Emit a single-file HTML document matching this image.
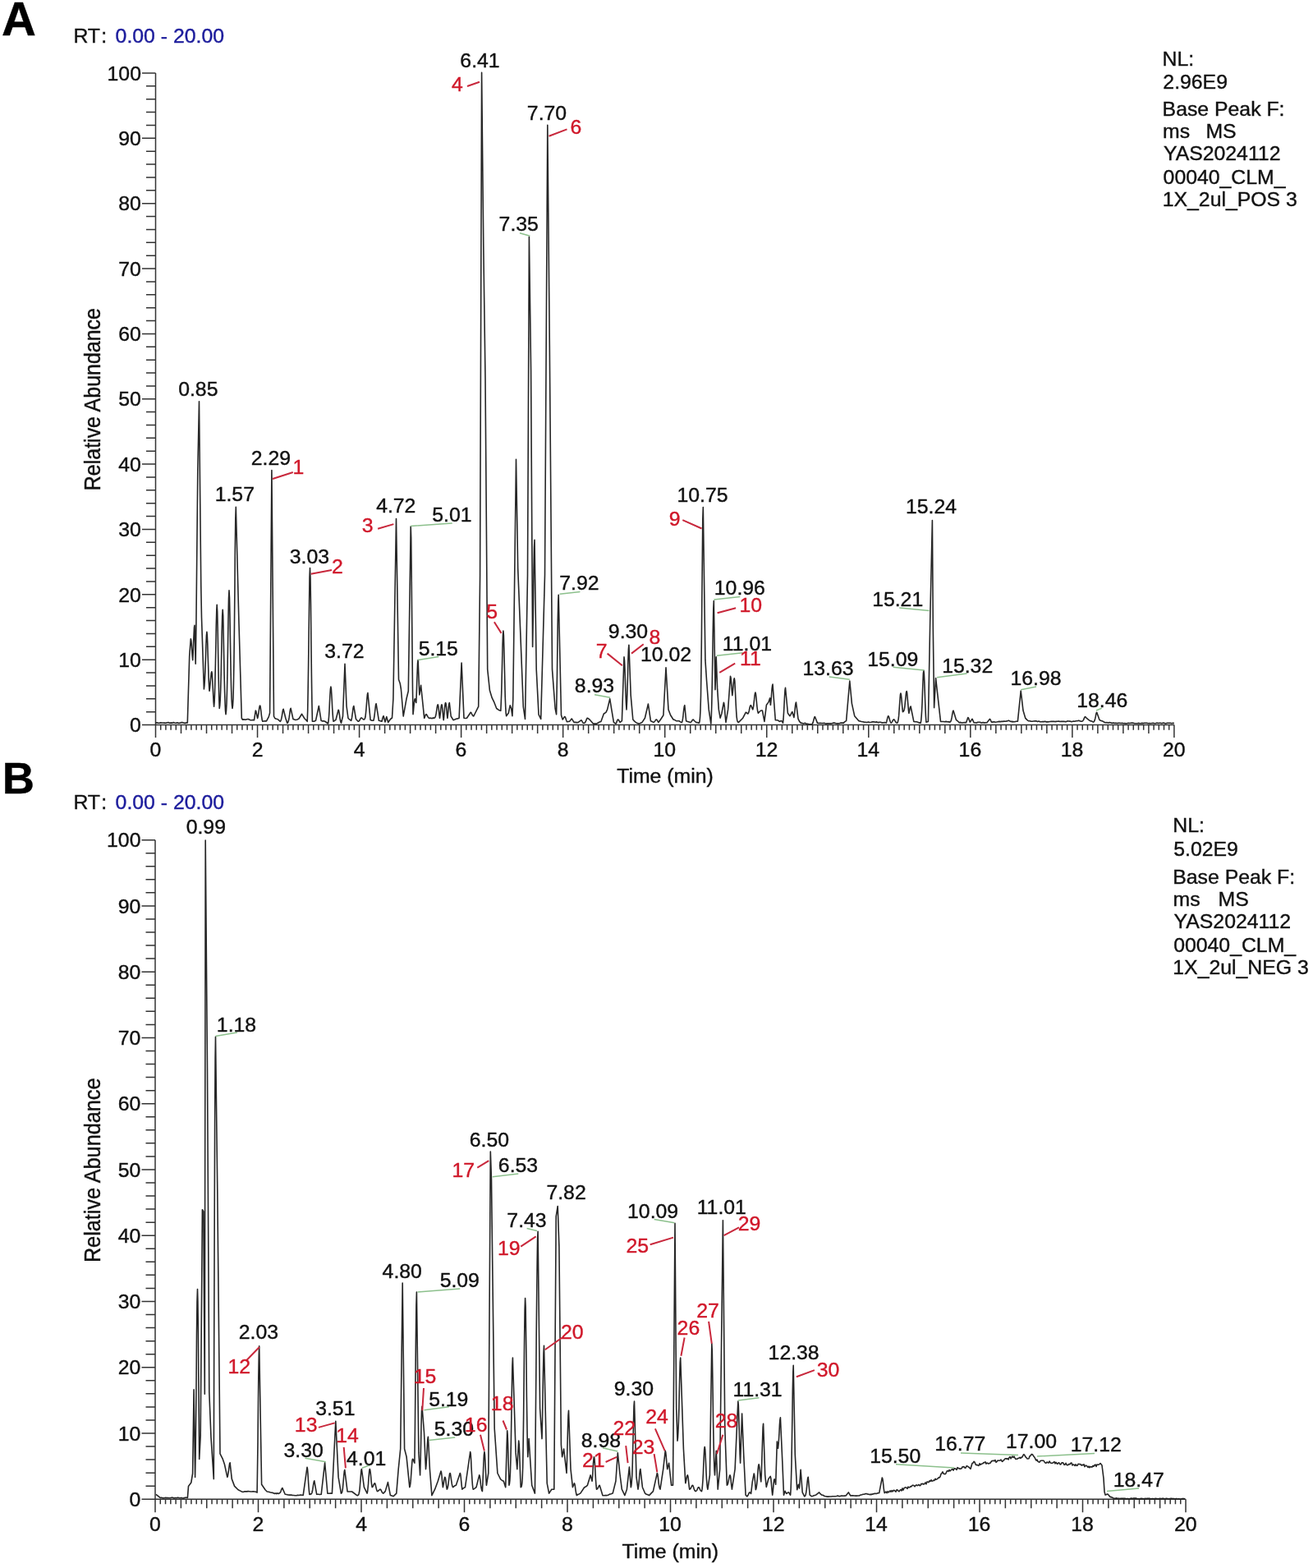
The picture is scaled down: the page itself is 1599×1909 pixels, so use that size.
<!DOCTYPE html>
<html><head><meta charset="utf-8"><title>Chromatograms</title>
<style>html,body{margin:0;padding:0;background:#fff}svg{display:block}text{font-family:"Liberation Sans",Arial,sans-serif;stroke-width:0.4px}</style>
</head><body>
<svg width="1599" height="1909" viewBox="0 0 1599 1909">
<rect width="1599" height="1909" fill="#fff"/>
<path d="M189.5,898.0 V89.00 M173.00,882.50 H189.5 M178.00,866.63 H189.5 M178.00,850.76 H189.5 M178.00,834.89 H189.5 M178.00,819.02 H189.5 M173.00,803.15 H189.5 M178.00,787.28 H189.5 M178.00,771.41 H189.5 M178.00,755.54 H189.5 M178.00,739.67 H189.5 M173.00,723.80 H189.5 M178.00,707.93 H189.5 M178.00,692.06 H189.5 M178.00,676.19 H189.5 M178.00,660.32 H189.5 M173.00,644.45 H189.5 M178.00,628.58 H189.5 M178.00,612.71 H189.5 M178.00,596.84 H189.5 M178.00,580.97 H189.5 M173.00,565.10 H189.5 M178.00,549.23 H189.5 M178.00,533.36 H189.5 M178.00,517.49 H189.5 M178.00,501.62 H189.5 M173.00,485.75 H189.5 M178.00,469.88 H189.5 M178.00,454.01 H189.5 M178.00,438.14 H189.5 M178.00,422.27 H189.5 M173.00,406.40 H189.5 M178.00,390.53 H189.5 M178.00,374.66 H189.5 M178.00,358.79 H189.5 M178.00,342.92 H189.5 M173.00,327.05 H189.5 M178.00,311.18 H189.5 M178.00,295.31 H189.5 M178.00,279.44 H189.5 M178.00,263.57 H189.5 M173.00,247.70 H189.5 M178.00,231.83 H189.5 M178.00,215.96 H189.5 M178.00,200.09 H189.5 M178.00,184.22 H189.5 M173.00,168.35 H189.5 M178.00,152.48 H189.5 M178.00,136.61 H189.5 M178.00,120.74 H189.5 M178.00,104.87 H189.5 M173.00,89.00 H189.5 M189.5,882.5 H1429.9 M189.50,882.5 V898.0 M195.70,882.5 V888.75 M201.90,882.5 V888.75 M208.11,882.5 V888.75 M214.31,882.5 V888.75 M220.51,882.5 V893.0 M226.71,882.5 V888.75 M232.91,882.5 V888.75 M239.12,882.5 V888.75 M245.32,882.5 V888.75 M251.52,882.5 V893.0 M257.72,882.5 V888.75 M263.92,882.5 V888.75 M270.13,882.5 V888.75 M276.33,882.5 V888.75 M282.53,882.5 V893.0 M288.73,882.5 V888.75 M294.93,882.5 V888.75 M301.14,882.5 V888.75 M307.34,882.5 V888.75 M313.54,882.5 V898.0 M319.74,882.5 V888.75 M325.94,882.5 V888.75 M332.15,882.5 V888.75 M338.35,882.5 V888.75 M344.55,882.5 V893.0 M350.75,882.5 V888.75 M356.95,882.5 V888.75 M363.16,882.5 V888.75 M369.36,882.5 V888.75 M375.56,882.5 V893.0 M381.76,882.5 V888.75 M387.96,882.5 V888.75 M394.17,882.5 V888.75 M400.37,882.5 V888.75 M406.57,882.5 V893.0 M412.77,882.5 V888.75 M418.97,882.5 V888.75 M425.18,882.5 V888.75 M431.38,882.5 V888.75 M437.58,882.5 V898.0 M443.78,882.5 V888.75 M449.98,882.5 V888.75 M456.19,882.5 V888.75 M462.39,882.5 V888.75 M468.59,882.5 V893.0 M474.79,882.5 V888.75 M480.99,882.5 V888.75 M487.20,882.5 V888.75 M493.40,882.5 V888.75 M499.60,882.5 V893.0 M505.80,882.5 V888.75 M512.00,882.5 V888.75 M518.21,882.5 V888.75 M524.41,882.5 V888.75 M530.61,882.5 V893.0 M536.81,882.5 V888.75 M543.01,882.5 V888.75 M549.22,882.5 V888.75 M555.42,882.5 V888.75 M561.62,882.5 V898.0 M567.82,882.5 V888.75 M574.02,882.5 V888.75 M580.23,882.5 V888.75 M586.43,882.5 V888.75 M592.63,882.5 V893.0 M598.83,882.5 V888.75 M605.03,882.5 V888.75 M611.24,882.5 V888.75 M617.44,882.5 V888.75 M623.64,882.5 V893.0 M629.84,882.5 V888.75 M636.04,882.5 V888.75 M642.25,882.5 V888.75 M648.45,882.5 V888.75 M654.65,882.5 V893.0 M660.85,882.5 V888.75 M667.05,882.5 V888.75 M673.26,882.5 V888.75 M679.46,882.5 V888.75 M685.66,882.5 V898.0 M691.86,882.5 V888.75 M698.06,882.5 V888.75 M704.27,882.5 V888.75 M710.47,882.5 V888.75 M716.67,882.5 V893.0 M722.87,882.5 V888.75 M729.07,882.5 V888.75 M735.28,882.5 V888.75 M741.48,882.5 V888.75 M747.68,882.5 V893.0 M753.88,882.5 V888.75 M760.08,882.5 V888.75 M766.29,882.5 V888.75 M772.49,882.5 V888.75 M778.69,882.5 V893.0 M784.89,882.5 V888.75 M791.09,882.5 V888.75 M797.30,882.5 V888.75 M803.50,882.5 V888.75 M809.70,882.5 V898.0 M815.90,882.5 V888.75 M822.10,882.5 V888.75 M828.31,882.5 V888.75 M834.51,882.5 V888.75 M840.71,882.5 V893.0 M846.91,882.5 V888.75 M853.11,882.5 V888.75 M859.32,882.5 V888.75 M865.52,882.5 V888.75 M871.72,882.5 V893.0 M877.92,882.5 V888.75 M884.12,882.5 V888.75 M890.33,882.5 V888.75 M896.53,882.5 V888.75 M902.73,882.5 V893.0 M908.93,882.5 V888.75 M915.13,882.5 V888.75 M921.34,882.5 V888.75 M927.54,882.5 V888.75 M933.74,882.5 V898.0 M939.94,882.5 V888.75 M946.14,882.5 V888.75 M952.35,882.5 V888.75 M958.55,882.5 V888.75 M964.75,882.5 V893.0 M970.95,882.5 V888.75 M977.15,882.5 V888.75 M983.36,882.5 V888.75 M989.56,882.5 V888.75 M995.76,882.5 V893.0 M1001.96,882.5 V888.75 M1008.16,882.5 V888.75 M1014.37,882.5 V888.75 M1020.57,882.5 V888.75 M1026.77,882.5 V893.0 M1032.97,882.5 V888.75 M1039.17,882.5 V888.75 M1045.38,882.5 V888.75 M1051.58,882.5 V888.75 M1057.78,882.5 V898.0 M1063.98,882.5 V888.75 M1070.18,882.5 V888.75 M1076.39,882.5 V888.75 M1082.59,882.5 V888.75 M1088.79,882.5 V893.0 M1094.99,882.5 V888.75 M1101.19,882.5 V888.75 M1107.40,882.5 V888.75 M1113.60,882.5 V888.75 M1119.80,882.5 V893.0 M1126.00,882.5 V888.75 M1132.20,882.5 V888.75 M1138.41,882.5 V888.75 M1144.61,882.5 V888.75 M1150.81,882.5 V893.0 M1157.01,882.5 V888.75 M1163.21,882.5 V888.75 M1169.42,882.5 V888.75 M1175.62,882.5 V888.75 M1181.82,882.5 V898.0 M1188.02,882.5 V888.75 M1194.22,882.5 V888.75 M1200.43,882.5 V888.75 M1206.63,882.5 V888.75 M1212.83,882.5 V893.0 M1219.03,882.5 V888.75 M1225.23,882.5 V888.75 M1231.44,882.5 V888.75 M1237.64,882.5 V888.75 M1243.84,882.5 V893.0 M1250.04,882.5 V888.75 M1256.24,882.5 V888.75 M1262.45,882.5 V888.75 M1268.65,882.5 V888.75 M1274.85,882.5 V893.0 M1281.05,882.5 V888.75 M1287.25,882.5 V888.75 M1293.46,882.5 V888.75 M1299.66,882.5 V888.75 M1305.86,882.5 V898.0 M1312.06,882.5 V888.75 M1318.26,882.5 V888.75 M1324.47,882.5 V888.75 M1330.67,882.5 V888.75 M1336.87,882.5 V893.0 M1343.07,882.5 V888.75 M1349.27,882.5 V888.75 M1355.48,882.5 V888.75 M1361.68,882.5 V888.75 M1367.88,882.5 V893.0 M1374.08,882.5 V888.75 M1380.28,882.5 V888.75 M1386.49,882.5 V888.75 M1392.69,882.5 V888.75 M1398.89,882.5 V893.0 M1405.09,882.5 V888.75 M1411.29,882.5 V888.75 M1417.50,882.5 V888.75 M1423.70,882.5 V888.75 M1429.90,882.5 V898.0" stroke="#333" stroke-width="1.5" fill="none"/>
<text x="158.10" y="891.20" font-size="24.8" fill="#111" stroke="#111">0</text>
<text x="144.34" y="811.85" font-size="24.8" fill="#111" stroke="#111">10</text>
<text x="144.34" y="732.50" font-size="24.8" fill="#111" stroke="#111">20</text>
<text x="144.34" y="653.15" font-size="24.8" fill="#111" stroke="#111">30</text>
<text x="144.34" y="573.80" font-size="24.8" fill="#111" stroke="#111">40</text>
<text x="144.34" y="494.45" font-size="24.8" fill="#111" stroke="#111">50</text>
<text x="144.34" y="415.10" font-size="24.8" fill="#111" stroke="#111">60</text>
<text x="144.34" y="335.75" font-size="24.8" fill="#111" stroke="#111">70</text>
<text x="144.34" y="256.40" font-size="24.8" fill="#111" stroke="#111">80</text>
<text x="144.34" y="177.05" font-size="24.8" fill="#111" stroke="#111">90</text>
<text x="130.58" y="97.70" font-size="24.8" fill="#111" stroke="#111">100</text>
<text x="182.56" y="921.00" font-size="24.8" fill="#111" stroke="#111">0</text>
<text x="306.66" y="921.00" font-size="24.8" fill="#111" stroke="#111">2</text>
<text x="430.82" y="921.00" font-size="24.8" fill="#111" stroke="#111">4</text>
<text x="554.61" y="921.00" font-size="24.8" fill="#111" stroke="#111">6</text>
<text x="678.72" y="921.00" font-size="24.8" fill="#111" stroke="#111">8</text>
<text x="795.44" y="921.00" font-size="24.8" fill="#111" stroke="#111">10</text>
<text x="919.67" y="921.00" font-size="24.8" fill="#111" stroke="#111">12</text>
<text x="1043.46" y="921.00" font-size="24.8" fill="#111" stroke="#111">14</text>
<text x="1167.62" y="921.00" font-size="24.8" fill="#111" stroke="#111">16</text>
<text x="1291.66" y="921.00" font-size="24.8" fill="#111" stroke="#111">18</text>
<text x="1415.95" y="921.00" font-size="24.8" fill="#111" stroke="#111">20</text>
<path d="M189.5,880.0 L191.1,879.7 L192.6,880.3 L194.2,880.2 L195.7,879.8 L197.3,880.0 L198.8,880.0 L200.4,880.1 L201.9,880.2 L203.5,879.7 L205.0,879.6 L206.6,880.3 L208.1,879.9 L209.7,880.2 L211.2,879.6 L212.8,880.0 L214.3,880.2 L215.9,879.8 L217.4,880.4 L219.0,880.3 L220.5,879.6 L222.1,879.6 L223.6,880.0 L225.2,880.4 L226.7,879.9 L228.3,880.0 L230.7,798.9 L232.3,777.7 L232.8,779.6 L233.3,784.7 L233.7,791.5 L234.2,798.2 L234.7,803.6 L235.2,794.3 L235.6,783.2 L236.1,772.3 L236.5,764.2 L237.0,761.2 L238.2,808.3 L238.9,761.0 L240.8,572.6 L242.5,488.9 L244.8,714.0 L245.5,751.7 L248.4,839.0 L248.9,834.9 L249.4,827.4 L249.9,816.0 L250.4,801.2 L250.9,785.8 L251.4,773.9 L251.9,769.4 L252.3,773.2 L252.8,783.7 L253.2,797.9 L253.7,812.7 L254.1,825.6 L254.6,835.1 L255.0,841.3 L255.5,838.2 L255.9,833.8 L256.4,828.4 L256.9,823.1 L257.3,819.2 L257.8,817.7 L258.3,820.4 L258.7,827.5 L259.2,837.0 L259.7,846.6 L260.1,854.6 L260.6,860.2 L261.1,854.7 L261.5,844.9 L261.9,829.6 L262.4,808.7 L262.9,784.2 L263.3,760.4 L263.8,742.9 L264.2,736.4 L264.7,745.1 L265.2,768.0 L265.7,797.6 L266.2,826.1 L266.7,848.1 L267.2,862.5 L267.7,859.2 L268.2,852.3 L268.7,839.7 L269.2,820.5 L269.7,795.7 L270.2,769.8 L270.7,749.9 L271.2,742.3 L271.7,749.6 L272.1,769.2 L272.6,795.1 L273.1,820.9 L273.6,841.9 L274.1,856.4 L274.5,865.1 L275.0,869.6 L275.5,865.4 L276.0,856.7 L276.5,841.0 L277.0,816.9 L277.5,785.7 L278.0,753.3 L278.5,728.2 L279.0,718.7 L279.5,727.7 L280.0,751.6 L280.5,782.6 L281.0,812.2 L281.5,835.3 L282.0,850.2 L282.5,858.5 L283.0,862.5 L283.5,858.8 L284.0,850.5 L284.4,834.3 L284.9,807.0 L285.4,767.3 L285.9,718.3 L286.3,668.8 L286.8,631.4 L287.3,617.4 L291.0,760.0 L294.3,874.3 L295.5,876.2 L296.0,876.0 L296.5,876.1 L297.0,875.8 L297.5,876.0 L298.0,876.2 L298.5,876.2 L299.0,876.1 L299.5,876.1 L300.0,875.9 L300.5,875.8 L301.0,875.7 L301.5,875.5 L302.0,875.5 L302.5,875.6 L303.0,875.8 L303.5,876.1 L304.0,876.3 L304.5,876.5 L305.0,876.7 L305.5,876.7 L306.0,876.8 L306.5,876.7 L307.0,876.8 L307.5,876.6 L308.0,876.6 L308.5,876.6 L309.0,876.8 L309.5,876.8 L311.3,865.1 L311.8,865.8 L312.2,867.6 L312.7,870.0 L313.1,872.4 L313.6,874.5 L314.1,872.7 L314.6,870.1 L315.1,866.6 L315.6,863.0 L316.1,860.2 L316.6,859.1 L317.1,860.2 L317.5,863.1 L318.0,867.0 L318.4,871.0 L318.9,874.4 L319.3,876.8 L319.8,878.3 L321.4,878.0 L322.9,877.7 L324.5,877.9 L327.3,872.6 L328.6,868.0 L330.9,572.6 L333.5,872.0 L334.8,874.5 L336.4,875.3 L338.0,875.5 L339.6,876.9 L341.3,878.3 L341.8,877.8 L342.2,876.7 L342.7,875.0 L343.2,872.6 L343.7,869.5 L344.2,866.5 L344.6,864.2 L345.1,863.3 L348.0,875.0 L349.8,880.2 L350.3,879.9 L350.8,879.3 L351.2,878.1 L351.7,876.1 L352.2,873.2 L352.7,869.7 L353.1,866.1 L353.6,863.3 L354.1,862.3 L357.0,875.5 L360.0,876.5 L362.0,875.9 L364.0,875.0 L367.6,869.3 L371.0,875.0 L372.6,876.4 L374.2,878.3 L374.7,864.8 L375.1,842.4 L375.6,810.3 L376.1,771.2 L376.6,732.0 L377.0,702.6 L377.5,691.6 L378.0,703.8 L378.5,736.4 L378.9,779.4 L379.4,821.6 L379.9,855.4 L380.4,878.3 L382.4,878.2 L384.5,877.3 L388.3,859.5 L391.1,877.3 L392.6,877.9 L394.2,877.7 L395.7,878.3 L397.6,879.5 L399.5,881.0 L400.0,878.1 L400.5,873.0 L401.0,865.4 L401.4,855.9 L401.9,846.2 L402.4,838.9 L402.9,836.1 L403.4,838.5 L403.8,844.8 L404.3,853.5 L404.7,862.2 L405.2,869.6 L405.6,875.0 L406.1,878.3 L409.0,876.3 L412.1,864.2 L412.6,865.2 L413.1,867.8 L413.6,871.3 L414.0,874.6 L414.5,877.3 L415.0,879.2 L415.5,880.2 L417.5,872.0 L420.0,808.3 L422.0,859.5 L424.0,874.5 L425.9,876.1 L427.7,877.3 L428.1,875.8 L428.6,873.4 L429.0,870.2 L429.5,866.6 L429.9,863.0 L430.4,860.5 L430.8,859.5 L433.5,875.5 L436.1,878.3 L436.6,878.2 L437.1,877.9 L437.6,877.4 L438.1,876.7 L438.5,875.8 L439.0,874.9 L439.5,874.3 L440.0,874.0 L440.5,874.1 L441.0,874.5 L441.5,875.0 L442.0,875.4 L442.5,875.8 L443.0,876.0 L443.5,876.0 L444.0,875.4 L444.5,874.5 L445.0,872.5 L445.4,869.0 L445.9,863.9 L446.4,857.4 L446.9,850.7 L447.4,845.5 L447.9,843.6 L451.1,876.4 L453.0,877.2 L454.8,877.3 L455.3,875.8 L455.7,873.3 L456.2,869.8 L456.7,865.5 L457.2,861.2 L457.6,857.9 L458.1,856.7 L461.4,877.3 L463.2,877.7 L465.0,878.3 L465.4,876.7 L465.8,875.0 L466.3,873.3 L466.7,872.1 L467.1,871.7 L469.0,879.0 L470.8,872.6 L472.7,879.5 L475.5,875.5 L477.5,874.0 L478.9,850.8 L482.5,631.5 L485.5,827.2 L487.2,831.9 L488.4,839.0 L491.2,872.0 L495.0,850.8 L497.3,841.3 L500.2,641.0 L500.7,655.3 L501.1,693.7 L501.6,745.0 L502.1,796.7 L502.5,839.5 L503.0,869.6 L503.5,865.5 L503.9,860.6 L504.4,855.7 L504.8,852.1 L505.3,850.8 L506.8,855.5 L507.3,844.1 L507.7,830.6 L508.2,817.2 L508.6,807.3 L509.1,803.6 L510.8,846.0 L512.6,834.3 L514.3,850.8 L516.7,874.3 L517.2,873.3 L517.6,872.0 L518.1,870.8 L518.5,869.9 L519.0,869.6 L519.5,869.9 L519.9,870.6 L520.4,871.5 L520.9,872.4 L521.4,873.2 L521.8,873.7 L522.3,874.0 L522.8,874.2 L523.2,874.5 L523.7,874.3 L524.2,874.4 L524.7,874.1 L525.2,874.4 L525.7,874.6 L526.2,874.6 L526.7,874.3 L527.2,874.4 L527.7,873.9 L528.2,874.1 L528.7,874.4 L529.2,874.0 L529.7,873.6 L530.2,872.6 L530.7,870.9 L531.2,868.4 L531.7,865.0 L532.2,861.5 L532.7,858.8 L533.2,857.8 L533.7,859.0 L534.1,862.1 L534.6,866.4 L535.0,870.7 L535.5,874.3 L536.0,870.9 L536.5,866.6 L536.9,862.3 L537.4,859.0 L537.9,857.8 L538.4,859.1 L538.8,862.8 L539.3,867.6 L539.7,872.6 L540.2,876.7 L540.7,872.3 L541.2,866.8 L541.6,861.3 L542.1,857.1 L542.6,855.5 L543.1,856.8 L543.5,860.4 L544.0,865.3 L544.4,870.2 L544.9,874.3 L545.4,870.4 L545.9,865.5 L546.3,860.6 L546.8,856.9 L547.3,855.5 L549.2,872.0 L552.0,876.7 L553.8,876.0 L555.5,875.2 L557.3,874.9 L559.1,874.3 L562.1,807.1 L565.0,874.3 L566.8,874.5 L568.5,874.3 L573.2,867.3 L573.7,867.5 L574.1,868.2 L574.5,869.1 L575.0,870.0 L575.5,870.8 L575.9,871.4 L576.3,871.8 L576.8,872.0 L582.7,860.2 L584.6,700.0 L586.6,88.4 L588.8,300.0 L591.0,460.0 L593.7,814.9 L596.4,840.5 L599.2,849.7 L601.9,855.2 L604.7,862.5 L607.4,864.4 L609.8,865.3 L610.2,856.9 L610.7,844.0 L611.1,826.7 L611.6,806.7 L612.0,787.4 L612.5,773.3 L612.9,768.1 L613.4,773.8 L613.8,789.1 L614.3,809.6 L614.8,830.3 L615.2,847.6 L615.7,860.0 L616.1,867.6 L616.6,871.7 L619.3,868.0 L621.2,858.9 L622.6,862.5 L623.9,871.7 L624.8,851.5 L628.5,559.2 L630.7,692.1 L631.8,719.6 L637.3,860.7 L639.5,875.4 L642.5,700.0 L644.4,288.4 L646.6,450.0 L648.6,787.4 L649.1,760.3 L649.6,726.7 L650.0,692.7 L650.5,666.9 L651.0,657.3 L653.2,814.9 L656.0,869.8 L658.7,875.4 L663.5,700.0 L666.8,152.2 L669.3,420.0 L672.5,814.9 L676.1,862.5 L677.6,869.8 L678.0,847.9 L678.5,819.1 L678.9,786.3 L679.3,755.1 L679.8,732.5 L680.2,724.2 L683.5,870.8 L685.2,876.0 L685.6,875.5 L686.1,874.8 L686.5,874.0 L686.9,873.2 L687.4,872.7 L687.8,872.5 L688.2,872.8 L688.7,873.8 L689.1,875.1 L689.5,876.5 L690.0,877.7 L690.4,878.6 L690.9,878.7 L691.4,878.5 L691.9,878.5 L692.4,878.5 L692.9,878.4 L693.4,878.2 L693.9,877.9 L694.4,877.3 L694.9,876.6 L695.4,875.9 L695.9,875.3 L696.4,875.1 L699.0,879.4 L700.7,879.4 L702.5,879.6 L704.2,879.4 L706.0,878.1 L707.7,876.8 L708.1,877.0 L708.6,877.5 L709.0,878.3 L709.4,879.1 L709.9,879.8 L710.3,880.3 L710.8,880.2 L711.2,880.2 L711.7,880.1 L712.2,879.9 L712.6,879.5 L713.1,878.8 L713.5,877.8 L714.0,876.6 L714.5,875.4 L714.9,874.5 L715.4,874.2 L718.0,876.0 L722.4,881.1 L724.5,881.1 L726.7,881.1 L728.4,879.9 L730.2,879.1 L731.9,878.6 L735.3,869.0 L737.9,867.3 L739.6,863.9 L742.7,850.9 L744.8,863.9 L747.4,879.4 L750.0,881.1 L750.4,880.3 L750.9,879.3 L751.3,878.2 L751.7,877.1 L752.2,876.3 L752.6,876.0 L753.0,876.2 L753.5,876.7 L753.9,877.4 L754.3,878.2 L754.8,878.9 L755.2,879.4 L757.4,877.7 L760.0,799.9 L760.5,804.3 L761.0,815.9 L761.5,831.0 L762.0,845.4 L762.5,856.6 L763.0,863.9 L763.5,854.2 L764.0,840.0 L764.5,822.2 L764.9,804.1 L765.4,790.4 L765.9,785.2 L768.2,846.6 L770.8,876.0 L772.5,877.9 L774.2,879.4 L776.4,880.6 L778.5,881.1 L780.2,880.3 L782.0,879.4 L785.4,874.2 L789.4,857.0 L792.4,877.7 L794.1,878.5 L795.8,879.4 L796.3,879.2 L796.8,878.8 L797.3,878.3 L797.8,877.6 L798.3,876.8 L798.8,876.2 L799.3,876.0 L799.7,876.2 L800.2,876.7 L800.6,877.4 L801.0,878.2 L801.5,878.9 L801.9,879.4 L804.5,876.0 L807.9,870.8 L811.0,812.9 L814.0,863.9 L816.6,870.8 L820.0,876.0 L821.8,876.6 L823.5,877.7 L825.2,877.7 L826.9,877.7 L828.6,878.9 L830.4,879.4 L830.9,878.0 L831.4,875.7 L831.9,872.2 L832.3,867.8 L832.8,863.4 L833.3,860.0 L833.8,858.7 L835.6,877.7 L837.3,878.5 L839.1,878.9 L840.8,879.4 L841.3,879.2 L841.8,878.8 L842.3,878.2 L842.7,877.5 L843.2,876.8 L843.7,876.2 L844.2,876.0 L846.0,878.0 L847.7,879.4 L849.4,879.6 L851.1,880.3 L851.6,879.7 L852.0,878.3 L852.5,873.7 L853.0,864.5 L853.5,846.8 L853.9,817.3 L854.4,774.9 L854.9,723.1 L855.4,671.1 L855.8,632.1 L856.3,617.5 L858.9,803.4 L860.6,829.3 L863.2,863.9 L865.8,881.1 L866.3,872.2 L866.8,856.2 L867.3,831.6 L867.8,799.9 L868.3,766.8 L868.8,741.3 L869.3,731.6 L871.0,839.7 L872.2,799.9 L873.6,837.9 L875.3,863.9 L877.1,874.2 L878.8,869.0 L881.4,855.2 L881.8,856.6 L882.3,860.3 L882.7,865.5 L883.1,871.0 L883.6,875.8 L884.0,879.4 L886.6,863.9 L889.5,823.2 L890.0,824.9 L890.4,829.3 L890.9,835.4 L891.3,841.5 L891.8,846.6 L892.3,842.5 L892.8,837.2 L893.3,831.7 L893.8,827.4 L894.3,825.8 L894.8,828.8 L895.2,836.7 L895.7,847.3 L896.2,857.9 L896.7,866.6 L897.1,872.6 L897.6,876.2 L898.1,878.1 L898.6,879.0 L899.0,879.2 L899.5,879.4 L904.7,874.2 L908.2,867.3 L908.6,867.4 L909.1,867.7 L909.5,868.0 L909.9,868.4 L910.4,868.7 L910.8,869.0 L911.3,868.3 L911.8,867.2 L912.3,865.4 L912.7,863.2 L913.2,861.0 L913.7,859.3 L914.2,858.7 L914.6,859.0 L915.1,859.8 L915.5,860.9 L915.9,862.1 L916.4,863.1 L916.8,863.9 L917.2,862.1 L917.7,859.3 L918.1,855.6 L918.6,851.4 L919.0,847.2 L919.5,844.2 L919.9,843.1 L920.4,844.7 L920.9,849.0 L921.4,854.6 L921.9,860.0 L922.4,864.1 L922.9,866.8 L923.4,868.3 L925.0,866.5 L926.7,865.0 L928.4,865.0 L930.9,878.4 L933.4,858.3 L935.9,854.9 L937.6,849.9 L938.4,858.3 L938.8,854.5 L939.3,849.5 L939.7,843.8 L940.1,838.4 L940.6,834.5 L941.0,833.1 L944.3,876.7 L946.8,876.7 L949.3,878.4 L949.7,878.3 L950.2,878.1 L950.6,877.9 L951.0,877.8 L951.5,877.6 L951.9,877.6 L953.5,880.1 L954.0,875.2 L954.5,867.7 L955.0,858.1 L955.5,848.0 L956.0,840.2 L956.5,837.3 L959.4,868.3 L961.9,871.7 L962.4,871.1 L962.9,870.3 L963.4,869.1 L963.9,868.0 L964.4,867.0 L964.9,866.7 L966.9,873.4 L967.3,870.6 L967.8,867.0 L968.2,862.8 L968.6,858.9 L969.1,856.0 L969.5,855.0 L972.0,875.1 L973.6,878.4 L975.3,880.1 L977.0,880.4 L978.6,880.9 L980.3,880.3 L982.0,881.2 L983.7,881.4 L985.4,881.7 L987.0,881.8 L988.7,881.8 L989.2,881.4 L989.6,880.7 L990.1,879.6 L990.5,878.1 L991.0,876.2 L991.5,874.4 L991.9,873.0 L992.4,872.5 L995.4,880.1 L997.1,880.5 L998.8,880.3 L1000.5,880.5 L1002.1,880.5 L1003.8,880.3 L1005.5,881.1 L1007.2,880.9 L1007.7,881.0 L1008.2,880.7 L1008.7,880.9 L1009.2,880.9 L1009.7,880.8 L1010.2,880.8 L1010.7,880.9 L1011.2,881.0 L1011.6,880.9 L1012.1,880.9 L1012.6,880.8 L1013.1,880.7 L1013.6,880.6 L1014.1,880.4 L1014.6,880.3 L1015.1,880.1 L1015.6,880.1 L1016.1,880.1 L1016.6,880.3 L1017.1,880.4 L1017.6,880.6 L1018.1,880.7 L1018.6,880.8 L1019.1,880.9 L1019.6,880.9 L1020.1,881.0 L1020.6,880.9 L1022.3,880.7 L1024.0,880.1 L1025.6,880.1 L1027.3,880.1 L1028.9,878.6 L1030.6,877.6 L1034.8,829.0 L1037.4,856.6 L1040.7,871.7 L1045.7,877.6 L1047.4,878.0 L1049.1,878.5 L1050.7,878.8 L1052.4,879.1 L1054.1,879.2 L1055.8,879.5 L1057.5,879.0 L1059.2,879.5 L1060.8,879.3 L1062.5,878.9 L1064.2,878.8 L1065.9,879.2 L1067.6,878.9 L1069.2,879.6 L1070.9,879.3 L1072.6,879.3 L1074.3,879.9 L1076.0,879.8 L1077.6,879.6 L1079.3,880.1 L1079.8,878.4 L1080.3,876.3 L1080.8,874.1 L1081.3,872.4 L1081.8,871.7 L1082.3,872.2 L1082.7,873.5 L1083.2,875.3 L1083.7,877.0 L1084.2,878.5 L1084.6,879.5 L1085.1,880.1 L1085.6,879.8 L1086.1,879.3 L1086.6,878.6 L1087.0,877.8 L1087.5,876.8 L1088.0,876.2 L1088.5,875.9 L1089.0,876.1 L1089.4,876.7 L1089.9,877.6 L1090.4,878.4 L1090.8,879.1 L1091.3,879.6 L1091.8,879.9 L1092.2,880.0 L1092.7,880.1 L1093.2,879.5 L1093.6,878.1 L1094.1,875.6 L1094.6,871.4 L1095.0,865.5 L1095.5,858.4 L1096.0,851.3 L1096.4,846.0 L1096.9,844.0 L1097.4,845.8 L1097.9,850.4 L1098.4,856.4 L1098.9,862.2 L1099.4,866.7 L1099.9,866.3 L1100.3,866.1 L1100.8,865.2 L1101.3,863.5 L1101.8,860.6 L1102.2,856.5 L1102.7,851.6 L1103.2,846.6 L1103.6,842.9 L1104.1,841.5 L1104.6,843.2 L1105.0,847.7 L1105.5,853.7 L1106.0,859.8 L1106.4,864.8 L1106.9,868.3 L1107.3,866.4 L1107.8,864.2 L1108.2,862.1 L1108.7,860.6 L1109.1,860.0 L1112.8,878.4 L1114.5,878.8 L1116.2,878.8 L1117.8,879.2 L1119.5,879.9 L1121.2,880.1 L1121.7,877.6 L1122.1,872.9 L1122.6,865.3 L1123.1,854.7 L1123.5,841.9 L1124.0,829.3 L1124.4,819.9 L1124.9,816.4 L1125.4,820.7 L1125.9,832.1 L1126.4,846.9 L1126.9,861.1 L1127.4,872.1 L1127.9,879.2 L1130.4,878.4 L1132.9,746.0 L1135.4,633.6 L1136.3,764.4 L1137.6,861.6 L1139.6,825.6 L1142.1,848.2 L1145.5,878.4 L1147.1,878.5 L1148.8,878.5 L1150.4,878.7 L1152.0,878.4 L1153.6,878.8 L1155.3,878.9 L1156.9,879.1 L1157.4,878.8 L1157.8,878.2 L1158.3,877.2 L1158.7,875.5 L1159.2,873.2 L1159.6,870.5 L1160.1,867.8 L1160.5,865.8 L1161.0,865.1 L1164.4,876.3 L1166.2,877.8 L1168.1,879.7 L1169.8,879.4 L1171.5,880.0 L1173.2,879.7 L1174.9,879.5 L1176.6,879.7 L1178.8,873.5 L1179.3,873.9 L1179.8,875.1 L1180.3,876.6 L1180.8,878.0 L1181.3,879.1 L1181.8,878.6 L1182.2,877.9 L1182.7,877.1 L1183.2,876.3 L1183.6,875.6 L1184.1,875.4 L1186.0,879.7 L1187.6,879.8 L1189.2,880.0 L1190.8,879.3 L1192.4,879.3 L1194.0,879.4 L1195.5,879.9 L1197.1,879.4 L1198.7,879.9 L1200.3,879.8 L1201.9,879.7 L1205.3,875.4 L1205.7,875.7 L1206.2,876.3 L1206.6,877.3 L1207.1,878.3 L1207.5,879.1 L1209.0,879.1 L1210.6,878.7 L1212.1,879.2 L1213.6,879.0 L1215.2,878.7 L1216.7,878.4 L1218.3,878.6 L1219.8,878.4 L1221.3,878.4 L1222.9,878.1 L1224.4,878.2 L1226.3,877.9 L1228.2,877.3 L1228.7,877.4 L1229.1,877.6 L1229.6,877.8 L1230.1,878.1 L1230.5,878.3 L1231.0,878.4 L1231.5,878.5 L1231.9,878.6 L1232.4,878.2 L1232.9,878.4 L1233.3,879.0 L1233.8,878.6 L1235.7,878.8 L1237.5,878.2 L1239.4,878.2 L1243.2,841.0 L1246.0,865.1 L1248.8,874.4 L1250.7,876.4 L1252.6,877.8 L1254.2,877.7 L1255.7,878.3 L1257.3,878.2 L1258.8,878.0 L1260.4,877.9 L1261.9,877.8 L1263.5,878.6 L1265.1,878.0 L1266.6,878.7 L1268.2,878.8 L1269.7,878.6 L1271.3,878.6 L1272.8,878.3 L1274.3,878.9 L1275.8,878.9 L1277.3,878.7 L1278.8,878.5 L1280.3,878.4 L1281.8,878.4 L1283.3,878.2 L1284.8,878.6 L1286.3,878.4 L1287.8,878.2 L1289.3,878.1 L1290.9,878.5 L1292.4,878.2 L1293.9,878.4 L1295.4,878.2 L1296.9,878.6 L1298.4,878.6 L1299.9,877.9 L1301.4,878.0 L1302.9,878.1 L1304.4,878.6 L1305.9,878.5 L1307.4,878.1 L1308.9,878.2 L1310.4,877.7 L1312.0,877.7 L1313.5,877.3 L1314.0,877.4 L1314.5,877.5 L1314.9,877.7 L1315.4,877.9 L1315.9,878.0 L1316.3,878.1 L1316.8,878.2 L1317.3,878.2 L1317.8,878.1 L1318.3,877.9 L1318.7,877.6 L1319.2,876.9 L1319.7,876.0 L1320.2,874.9 L1320.6,873.8 L1321.1,872.9 L1321.6,872.6 L1323.7,874.7 L1325.7,876.3 L1327.6,877.6 L1329.5,878.0 L1331.4,879.1 L1331.9,878.9 L1332.4,878.5 L1332.8,877.7 L1333.3,876.4 L1333.8,874.5 L1334.3,872.2 L1334.7,869.8 L1335.2,868.0 L1335.7,867.3 L1338.9,876.3 L1340.4,877.3 L1341.9,877.8 L1343.4,878.3 L1344.9,879.4 L1346.4,879.7 L1348.0,879.6 L1349.5,880.0 L1351.1,879.6 L1352.6,879.7 L1354.2,880.4 L1355.8,879.9 L1357.3,880.4 L1358.9,880.3 L1360.4,880.6 L1362.0,880.3 L1363.5,880.3 L1365.1,880.5 L1366.6,880.3 L1368.1,880.8 L1369.6,880.6 L1371.1,880.9 L1372.6,880.8 L1374.1,880.2 L1375.6,880.5 L1377.2,880.2 L1378.7,880.1 L1380.2,880.2 L1381.7,880.8 L1383.2,880.7 L1384.7,880.8 L1386.2,880.4 L1387.7,880.6 L1389.2,880.7 L1390.7,880.4 L1392.2,880.6 L1393.7,880.3 L1395.2,880.2 L1396.7,880.3 L1398.3,880.8 L1399.8,880.6 L1401.3,880.8 L1402.8,880.5 L1404.3,880.3 L1405.8,880.7 L1407.3,880.8 L1408.8,880.1 L1410.3,880.6 L1411.8,880.2 L1413.3,880.2 L1414.8,880.8 L1416.3,880.1 L1417.8,880.3 L1419.4,880.9 L1420.9,880.4 L1422.4,880.2 L1423.9,880.2 L1425.4,880.3 L1426.9,880.7 L1428.4,880.2 L1429.9,880.5" stroke="#262626" stroke-width="1.6" fill="none" stroke-linejoin="round"/>
<path d="M632.9,283.8 L645.4,287.3 M500.2,640.5 L550.8,637 M509.1,803.6 L534.3,799.6 M681.6,723.3 L706.4,720.5 M724.1,845.7 L743.1,849.2 M869.3,729.9 L901.3,726.4 M872.7,798.2 L904.7,794.7 M1009.7,823.9 L1034.8,827.3 M1087.6,812.2 L1125.4,816 M1095.2,740.1 L1131.6,743.5 M1141,824.7 L1177.5,820 M1243.2,839.7 L1262,836 M1335,865 L1341.7,862.3" stroke="#8cc08c" stroke-width="1.5" fill="none"/>
<path d="M332,583 L356.8,575 M378.7,698.7 L404,694 M460.1,643.8 L479.4,638.1 M569,105 L584,99.7 M601.9,757.2 L610.5,770.9 M668.5,165.8 L690.5,157.4 M739.6,795.6 L757.8,810.3 M769,795.6 L783.7,784.3 M831.3,633.1 L854.6,643.5 M873.6,746.3 L896.1,740.3 M876.2,818.9 L895.2,807.7" stroke="#c8283c" stroke-width="2" fill="none"/>
<text x="560.37" y="81.90" font-size="24.8" fill="#111" stroke="#111">6.41</text>
<text x="641.85" y="146.00" font-size="24.8" fill="#111" stroke="#111">7.70</text>
<text x="607.61" y="281.00" font-size="24.8" fill="#111" stroke="#111">7.35</text>
<text x="217.18" y="482.00" font-size="24.8" fill="#111" stroke="#111">0.85</text>
<text x="305.77" y="565.50" font-size="24.8" fill="#111" stroke="#111">2.29</text>
<text x="261.67" y="610.30" font-size="24.8" fill="#111" stroke="#111">1.57</text>
<text x="352.73" y="685.70" font-size="24.8" fill="#111" stroke="#111">3.03</text>
<text x="395.21" y="801.00" font-size="24.8" fill="#111" stroke="#111">3.72</text>
<text x="458.15" y="624.40" font-size="24.8" fill="#111" stroke="#111">4.72</text>
<text x="526.34" y="635.00" font-size="24.8" fill="#111" stroke="#111">5.01</text>
<text x="509.63" y="797.70" font-size="24.8" fill="#111" stroke="#111">5.15</text>
<text x="681.33" y="717.80" font-size="24.8" fill="#111" stroke="#111">7.92</text>
<text x="699.87" y="843.10" font-size="24.8" fill="#111" stroke="#111">8.93</text>
<text x="740.86" y="777.40" font-size="24.8" fill="#111" stroke="#111">9.30</text>
<text x="780.09" y="805.00" font-size="24.8" fill="#111" stroke="#111">10.02</text>
<text x="824.44" y="610.75" font-size="24.8" fill="#111" stroke="#111">10.75</text>
<text x="869.82" y="723.80" font-size="24.8" fill="#111" stroke="#111">10.96</text>
<text x="879.81" y="792.00" font-size="24.8" fill="#111" stroke="#111">11.01</text>
<text x="977.42" y="822.20" font-size="24.8" fill="#111" stroke="#111">13.63</text>
<text x="1056.28" y="810.50" font-size="24.8" fill="#111" stroke="#111">15.09</text>
<text x="1062.13" y="738.40" font-size="24.8" fill="#111" stroke="#111">15.21</text>
<text x="1103.04" y="625.30" font-size="24.8" fill="#111" stroke="#111">15.24</text>
<text x="1147.14" y="819.10" font-size="24.8" fill="#111" stroke="#111">15.32</text>
<text x="1230.52" y="834.10" font-size="24.8" fill="#111" stroke="#111">16.98</text>
<text x="1311.17" y="861.30" font-size="24.8" fill="#111" stroke="#111">18.46</text>
<text x="356.55" y="577.30" font-size="24.8" fill="#d0182a" stroke="#d0182a">1</text>
<text x="404.12" y="697.50" font-size="24.8" fill="#d0182a" stroke="#d0182a">2</text>
<text x="440.82" y="648.00" font-size="24.8" fill="#d0182a" stroke="#d0182a">3</text>
<text x="549.94" y="111.00" font-size="24.8" fill="#d0182a" stroke="#d0182a">4</text>
<text x="592.32" y="752.60" font-size="24.8" fill="#d0182a" stroke="#d0182a">5</text>
<text x="694.49" y="162.70" font-size="24.8" fill="#d0182a" stroke="#d0182a">6</text>
<text x="725.82" y="800.80" font-size="24.8" fill="#d0182a" stroke="#d0182a">7</text>
<text x="790.61" y="783.50" font-size="24.8" fill="#d0182a" stroke="#d0182a">8</text>
<text x="814.87" y="640.00" font-size="24.8" fill="#d0182a" stroke="#d0182a">9</text>
<text x="900.39" y="744.60" font-size="24.8" fill="#d0182a" stroke="#d0182a">10</text>
<text x="901.04" y="810.30" font-size="24.8" fill="#d0182a" stroke="#d0182a">11</text>
<path d="M189,1841.25 V1022.65 M172.50,1825.25 H189 M177.50,1809.20 H189 M177.50,1793.15 H189 M177.50,1777.09 H189 M177.50,1761.04 H189 M172.50,1744.99 H189 M177.50,1728.94 H189 M177.50,1712.89 H189 M177.50,1696.83 H189 M177.50,1680.78 H189 M172.50,1664.73 H189 M177.50,1648.68 H189 M177.50,1632.63 H189 M177.50,1616.57 H189 M177.50,1600.52 H189 M172.50,1584.47 H189 M177.50,1568.42 H189 M177.50,1552.37 H189 M177.50,1536.31 H189 M177.50,1520.26 H189 M172.50,1504.21 H189 M177.50,1488.16 H189 M177.50,1472.11 H189 M177.50,1456.05 H189 M177.50,1440.00 H189 M172.50,1423.95 H189 M177.50,1407.90 H189 M177.50,1391.85 H189 M177.50,1375.79 H189 M177.50,1359.74 H189 M172.50,1343.69 H189 M177.50,1327.64 H189 M177.50,1311.59 H189 M177.50,1295.53 H189 M177.50,1279.48 H189 M172.50,1263.43 H189 M177.50,1247.38 H189 M177.50,1231.33 H189 M177.50,1215.27 H189 M177.50,1199.22 H189 M172.50,1183.17 H189 M177.50,1167.12 H189 M177.50,1151.07 H189 M177.50,1135.01 H189 M177.50,1118.96 H189 M172.50,1102.91 H189 M177.50,1086.86 H189 M177.50,1070.81 H189 M177.50,1054.75 H189 M177.50,1038.70 H189 M172.50,1022.65 H189 M189,1825.25 H1444.0 M189.00,1825.25 V1841.25 M195.28,1825.25 V1831.25 M201.55,1825.25 V1831.25 M207.82,1825.25 V1831.25 M214.10,1825.25 V1831.25 M220.38,1825.25 V1836.25 M226.65,1825.25 V1831.25 M232.93,1825.25 V1831.25 M239.20,1825.25 V1831.25 M245.47,1825.25 V1831.25 M251.75,1825.25 V1836.25 M258.02,1825.25 V1831.25 M264.30,1825.25 V1831.25 M270.57,1825.25 V1831.25 M276.85,1825.25 V1831.25 M283.12,1825.25 V1836.25 M289.40,1825.25 V1831.25 M295.68,1825.25 V1831.25 M301.95,1825.25 V1831.25 M308.23,1825.25 V1831.25 M314.50,1825.25 V1841.25 M320.77,1825.25 V1831.25 M327.05,1825.25 V1831.25 M333.33,1825.25 V1831.25 M339.60,1825.25 V1831.25 M345.88,1825.25 V1836.25 M352.15,1825.25 V1831.25 M358.43,1825.25 V1831.25 M364.70,1825.25 V1831.25 M370.98,1825.25 V1831.25 M377.25,1825.25 V1836.25 M383.52,1825.25 V1831.25 M389.80,1825.25 V1831.25 M396.08,1825.25 V1831.25 M402.35,1825.25 V1831.25 M408.62,1825.25 V1836.25 M414.90,1825.25 V1831.25 M421.18,1825.25 V1831.25 M427.45,1825.25 V1831.25 M433.73,1825.25 V1831.25 M440.00,1825.25 V1841.25 M446.28,1825.25 V1831.25 M452.55,1825.25 V1831.25 M458.82,1825.25 V1831.25 M465.10,1825.25 V1831.25 M471.38,1825.25 V1836.25 M477.65,1825.25 V1831.25 M483.93,1825.25 V1831.25 M490.20,1825.25 V1831.25 M496.48,1825.25 V1831.25 M502.75,1825.25 V1836.25 M509.03,1825.25 V1831.25 M515.30,1825.25 V1831.25 M521.58,1825.25 V1831.25 M527.85,1825.25 V1831.25 M534.12,1825.25 V1836.25 M540.40,1825.25 V1831.25 M546.67,1825.25 V1831.25 M552.95,1825.25 V1831.25 M559.23,1825.25 V1831.25 M565.50,1825.25 V1841.25 M571.78,1825.25 V1831.25 M578.05,1825.25 V1831.25 M584.33,1825.25 V1831.25 M590.60,1825.25 V1831.25 M596.88,1825.25 V1836.25 M603.15,1825.25 V1831.25 M609.42,1825.25 V1831.25 M615.70,1825.25 V1831.25 M621.98,1825.25 V1831.25 M628.25,1825.25 V1836.25 M634.53,1825.25 V1831.25 M640.80,1825.25 V1831.25 M647.08,1825.25 V1831.25 M653.35,1825.25 V1831.25 M659.62,1825.25 V1836.25 M665.90,1825.25 V1831.25 M672.17,1825.25 V1831.25 M678.45,1825.25 V1831.25 M684.73,1825.25 V1831.25 M691.00,1825.25 V1841.25 M697.27,1825.25 V1831.25 M703.55,1825.25 V1831.25 M709.83,1825.25 V1831.25 M716.10,1825.25 V1831.25 M722.38,1825.25 V1836.25 M728.65,1825.25 V1831.25 M734.93,1825.25 V1831.25 M741.20,1825.25 V1831.25 M747.48,1825.25 V1831.25 M753.75,1825.25 V1836.25 M760.02,1825.25 V1831.25 M766.30,1825.25 V1831.25 M772.58,1825.25 V1831.25 M778.85,1825.25 V1831.25 M785.12,1825.25 V1836.25 M791.40,1825.25 V1831.25 M797.68,1825.25 V1831.25 M803.95,1825.25 V1831.25 M810.23,1825.25 V1831.25 M816.50,1825.25 V1841.25 M822.78,1825.25 V1831.25 M829.05,1825.25 V1831.25 M835.33,1825.25 V1831.25 M841.60,1825.25 V1831.25 M847.88,1825.25 V1836.25 M854.15,1825.25 V1831.25 M860.43,1825.25 V1831.25 M866.70,1825.25 V1831.25 M872.98,1825.25 V1831.25 M879.25,1825.25 V1836.25 M885.53,1825.25 V1831.25 M891.80,1825.25 V1831.25 M898.08,1825.25 V1831.25 M904.35,1825.25 V1831.25 M910.62,1825.25 V1836.25 M916.90,1825.25 V1831.25 M923.18,1825.25 V1831.25 M929.45,1825.25 V1831.25 M935.73,1825.25 V1831.25 M942.00,1825.25 V1841.25 M948.28,1825.25 V1831.25 M954.55,1825.25 V1831.25 M960.83,1825.25 V1831.25 M967.10,1825.25 V1831.25 M973.38,1825.25 V1836.25 M979.65,1825.25 V1831.25 M985.93,1825.25 V1831.25 M992.20,1825.25 V1831.25 M998.48,1825.25 V1831.25 M1004.75,1825.25 V1836.25 M1011.03,1825.25 V1831.25 M1017.30,1825.25 V1831.25 M1023.58,1825.25 V1831.25 M1029.85,1825.25 V1831.25 M1036.12,1825.25 V1836.25 M1042.40,1825.25 V1831.25 M1048.68,1825.25 V1831.25 M1054.95,1825.25 V1831.25 M1061.22,1825.25 V1831.25 M1067.50,1825.25 V1841.25 M1073.78,1825.25 V1831.25 M1080.05,1825.25 V1831.25 M1086.33,1825.25 V1831.25 M1092.60,1825.25 V1831.25 M1098.88,1825.25 V1836.25 M1105.15,1825.25 V1831.25 M1111.43,1825.25 V1831.25 M1117.70,1825.25 V1831.25 M1123.97,1825.25 V1831.25 M1130.25,1825.25 V1836.25 M1136.53,1825.25 V1831.25 M1142.80,1825.25 V1831.25 M1149.08,1825.25 V1831.25 M1155.35,1825.25 V1831.25 M1161.62,1825.25 V1836.25 M1167.90,1825.25 V1831.25 M1174.18,1825.25 V1831.25 M1180.45,1825.25 V1831.25 M1186.72,1825.25 V1831.25 M1193.00,1825.25 V1841.25 M1199.28,1825.25 V1831.25 M1205.55,1825.25 V1831.25 M1211.83,1825.25 V1831.25 M1218.10,1825.25 V1831.25 M1224.38,1825.25 V1836.25 M1230.65,1825.25 V1831.25 M1236.92,1825.25 V1831.25 M1243.20,1825.25 V1831.25 M1249.48,1825.25 V1831.25 M1255.75,1825.25 V1836.25 M1262.03,1825.25 V1831.25 M1268.30,1825.25 V1831.25 M1274.58,1825.25 V1831.25 M1280.85,1825.25 V1831.25 M1287.12,1825.25 V1836.25 M1293.40,1825.25 V1831.25 M1299.67,1825.25 V1831.25 M1305.95,1825.25 V1831.25 M1312.23,1825.25 V1831.25 M1318.50,1825.25 V1841.25 M1324.78,1825.25 V1831.25 M1331.05,1825.25 V1831.25 M1337.33,1825.25 V1831.25 M1343.60,1825.25 V1831.25 M1349.88,1825.25 V1836.25 M1356.15,1825.25 V1831.25 M1362.42,1825.25 V1831.25 M1368.70,1825.25 V1831.25 M1374.98,1825.25 V1831.25 M1381.25,1825.25 V1836.25 M1387.53,1825.25 V1831.25 M1393.80,1825.25 V1831.25 M1400.08,1825.25 V1831.25 M1406.35,1825.25 V1831.25 M1412.62,1825.25 V1836.25 M1418.90,1825.25 V1831.25 M1425.18,1825.25 V1831.25 M1431.45,1825.25 V1831.25 M1437.73,1825.25 V1831.25 M1444.00,1825.25 V1841.25" stroke="#333" stroke-width="1.5" fill="none"/>
<text x="157.60" y="1833.95" font-size="24.8" fill="#111" stroke="#111">0</text>
<text x="143.84" y="1753.69" font-size="24.8" fill="#111" stroke="#111">10</text>
<text x="143.84" y="1673.43" font-size="24.8" fill="#111" stroke="#111">20</text>
<text x="143.84" y="1593.17" font-size="24.8" fill="#111" stroke="#111">30</text>
<text x="143.84" y="1512.91" font-size="24.8" fill="#111" stroke="#111">40</text>
<text x="143.84" y="1432.65" font-size="24.8" fill="#111" stroke="#111">50</text>
<text x="143.84" y="1352.39" font-size="24.8" fill="#111" stroke="#111">60</text>
<text x="143.84" y="1272.13" font-size="24.8" fill="#111" stroke="#111">70</text>
<text x="143.84" y="1191.87" font-size="24.8" fill="#111" stroke="#111">80</text>
<text x="143.84" y="1111.61" font-size="24.8" fill="#111" stroke="#111">90</text>
<text x="130.08" y="1031.35" font-size="24.8" fill="#111" stroke="#111">100</text>
<text x="182.06" y="1864.40" font-size="24.8" fill="#111" stroke="#111">0</text>
<text x="307.62" y="1864.40" font-size="24.8" fill="#111" stroke="#111">2</text>
<text x="433.24" y="1864.40" font-size="24.8" fill="#111" stroke="#111">4</text>
<text x="558.49" y="1864.40" font-size="24.8" fill="#111" stroke="#111">6</text>
<text x="684.06" y="1864.40" font-size="24.8" fill="#111" stroke="#111">8</text>
<text x="802.24" y="1864.40" font-size="24.8" fill="#111" stroke="#111">10</text>
<text x="927.93" y="1864.40" font-size="24.8" fill="#111" stroke="#111">12</text>
<text x="1053.18" y="1864.40" font-size="24.8" fill="#111" stroke="#111">14</text>
<text x="1178.80" y="1864.40" font-size="24.8" fill="#111" stroke="#111">16</text>
<text x="1304.30" y="1864.40" font-size="24.8" fill="#111" stroke="#111">18</text>
<text x="1430.05" y="1864.40" font-size="24.8" fill="#111" stroke="#111">20</text>
<path d="M189.9,1819.3 L195.4,1823.6 L196.9,1823.3 L198.4,1823.9 L199.9,1823.8 L201.4,1823.4 L202.9,1823.6 L204.4,1823.6 L205.9,1823.7 L207.4,1823.8 L208.9,1823.3 L210.4,1823.2 L211.9,1823.9 L213.4,1823.5 L214.9,1823.8 L216.4,1823.2 L217.9,1823.6 L219.4,1823.8 L220.9,1823.4 L222.4,1824.0 L223.9,1823.9 L225.4,1823.2 L226.9,1823.2 L228.4,1823.6 L229.5,1809.4 L232.8,1805.0 L234.6,1794.0 L236.1,1691.7 L237.6,1798.4 L238.1,1770.3 L238.6,1728.9 L239.1,1677.2 L239.5,1624.6 L240.0,1584.6 L240.5,1569.6 L240.9,1583.7 L241.4,1621.9 L241.8,1674.3 L242.3,1728.9 L242.7,1776.4 L244.2,1747.8 L246.4,1472.8 L247.8,1475.0 L249.3,1697.2 L250.2,1023.0 L252.5,1300.0 L254.8,1695.0 L257.0,1750.0 L260.3,1800.6 L260.7,1635.9 L261.2,1486.5 L261.6,1366.7 L262.1,1289.1 L262.5,1262.2 L264.8,1450.0 L268.0,1769.8 L271.3,1776.4 L273.5,1783.0 L276.8,1798.4 L277.3,1797.1 L277.7,1795.0 L278.2,1792.0 L278.7,1788.3 L279.2,1784.6 L279.6,1781.8 L280.1,1780.8 L282.3,1800.6 L285.6,1809.4 L290.0,1813.8 L292.2,1814.9 L294.4,1816.0 L295.9,1816.4 L297.5,1815.9 L299.0,1815.8 L300.6,1815.9 L302.1,1815.6 L303.6,1815.8 L305.2,1816.0 L306.7,1816.0 L308.3,1815.8 L309.8,1816.0 L311.5,1816.3 L313.1,1817.1 L313.5,1790.3 L314.0,1755.0 L314.4,1714.8 L314.8,1676.7 L315.3,1649.0 L315.7,1638.9 L318.6,1807.2 L323.0,1813.8 L325.2,1816.0 L327.0,1816.2 L328.7,1816.8 L330.5,1817.2 L332.2,1817.4 L334.0,1818.2 L334.5,1818.5 L335.0,1818.2 L335.5,1818.3 L336.0,1817.9 L336.5,1818.6 L337.0,1818.5 L337.5,1817.9 L338.0,1818.1 L338.5,1818.4 L338.9,1818.4 L339.4,1818.5 L339.9,1818.1 L340.4,1817.9 L340.9,1817.5 L341.4,1816.8 L341.9,1815.8 L342.4,1814.4 L342.9,1813.1 L343.4,1812.0 L343.9,1811.6 L347.2,1819.3 L349.0,1819.5 L350.7,1820.0 L352.5,1820.1 L354.2,1820.0 L356.0,1820.4 L357.6,1820.5 L359.3,1820.7 L360.9,1820.7 L362.6,1820.4 L364.2,1820.5 L365.9,1820.0 L367.6,1820.2 L369.2,1820.4 L374.0,1786.3 L374.5,1788.5 L375.0,1794.2 L375.4,1801.8 L375.9,1809.3 L376.4,1815.2 L376.9,1819.3 L377.4,1819.5 L377.9,1819.2 L378.4,1818.9 L378.9,1819.0 L379.4,1818.5 L379.9,1817.5 L380.3,1815.8 L380.8,1813.2 L381.3,1809.8 L381.8,1806.4 L382.3,1803.8 L382.8,1802.8 L385.7,1819.3 L387.5,1819.3 L389.4,1819.5 L391.2,1819.3 L395.6,1780.8 L398.9,1818.2 L400.7,1818.3 L402.6,1818.1 L404.4,1818.2 L408.8,1730.2 L412.1,1798.4 L415.4,1818.2 L415.9,1817.8 L416.4,1817.0 L416.9,1815.2 L417.4,1812.1 L417.8,1807.5 L418.3,1801.8 L418.8,1795.8 L419.3,1791.3 L419.8,1789.6 L423.1,1816.0 L424.9,1816.0 L426.8,1816.0 L428.6,1816.0 L434.8,1820.6 L435.3,1820.8 L435.7,1820.5 L436.2,1820.3 L436.7,1819.7 L437.1,1818.5 L437.6,1816.3 L438.1,1812.6 L438.5,1807.5 L439.0,1801.2 L439.5,1795.0 L439.9,1790.3 L440.4,1788.6 L443.4,1810.7 L447.1,1818.1 L447.6,1815.8 L448.0,1812.0 L448.5,1806.9 L448.9,1800.7 L449.4,1794.7 L449.8,1790.3 L450.3,1788.6 L450.8,1790.0 L451.3,1793.9 L451.8,1799.0 L452.2,1804.0 L452.7,1808.0 L453.2,1810.7 L453.7,1810.3 L454.1,1809.7 L454.6,1808.8 L455.0,1807.8 L455.5,1806.8 L455.9,1806.1 L456.4,1805.8 L456.9,1806.5 L457.4,1808.3 L457.9,1810.6 L458.4,1812.8 L458.9,1814.5 L459.4,1815.6 L459.9,1815.5 L460.3,1815.3 L460.8,1815.0 L461.2,1814.6 L461.7,1814.2 L462.2,1813.7 L462.6,1813.3 L463.1,1813.2 L463.6,1813.5 L464.0,1814.2 L464.5,1815.2 L465.0,1816.1 L465.4,1817.0 L465.9,1817.5 L466.3,1817.9 L466.8,1818.1 L469.2,1815.6 L472.4,1804.6 L475.4,1820.6 L477.2,1821.1 L479.1,1821.8 L481.0,1819.9 L482.8,1818.1 L485.2,1788.6 L487.7,1764.0 L490.2,1562.0 L492.6,1764.0 L495.1,1773.8 L498.8,1810.7 L499.3,1809.3 L499.7,1806.8 L500.2,1802.7 L500.6,1797.0 L501.1,1790.1 L501.6,1783.3 L502.0,1778.2 L502.5,1776.3 L503.0,1776.7 L503.5,1777.6 L503.9,1778.9 L504.4,1780.2 L504.9,1781.2 L505.4,1740.1 L505.9,1687.1 L506.4,1631.9 L506.9,1589.2 L507.4,1573.1 L509.9,1768.9 L511.6,1795.9 L512.1,1778.5 L512.6,1756.9 L513.0,1735.0 L513.5,1718.4 L514.0,1712.2 L516.5,1744.2 L518.5,1788.6 L519.0,1783.8 L519.5,1776.6 L520.0,1767.7 L520.4,1758.7 L520.9,1751.8 L521.4,1749.2 L523.4,1788.6 L525.9,1820.6 L529.6,1813.2 L533.3,1803.3 L537.0,1791.0 L537.5,1792.5 L538.0,1796.4 L538.4,1801.5 L538.9,1806.6 L539.4,1810.7 L539.9,1808.3 L540.4,1805.1 L540.9,1801.9 L541.4,1799.4 L541.9,1798.4 L542.4,1799.5 L542.9,1802.4 L543.3,1806.3 L543.8,1810.1 L544.3,1813.2 L544.8,1812.4 L545.2,1811.0 L545.7,1808.6 L546.1,1805.3 L546.6,1801.4 L547.1,1797.5 L547.5,1794.6 L548.0,1793.5 L548.5,1794.4 L548.9,1797.0 L549.4,1800.4 L549.9,1803.8 L550.3,1806.7 L550.8,1808.8 L551.2,1810.0 L551.7,1810.7 L553.5,1809.1 L555.4,1808.3 L560.3,1793.5 L560.8,1795.0 L561.3,1799.1 L561.8,1804.3 L562.3,1809.3 L562.8,1813.2 L564.6,1811.6 L566.5,1810.7 L572.7,1767.6 L573.2,1770.0 L573.6,1776.4 L574.0,1785.2 L574.5,1794.2 L575.0,1801.9 L575.4,1807.6 L575.8,1811.2 L576.3,1813.2 L578.1,1812.1 L580.0,1810.7 L583.7,1795.9 L584.2,1797.0 L584.6,1799.9 L585.1,1803.8 L585.5,1807.7 L586.0,1811.0 L586.5,1813.4 L586.9,1814.8 L587.4,1815.6 L587.9,1806.1 L588.4,1793.9 L588.9,1781.2 L589.4,1771.3 L589.9,1767.6 L590.4,1770.8 L590.9,1779.1 L591.4,1789.9 L591.9,1800.3 L592.4,1808.3 L594.8,1793.5 L597.3,1402.0 L598.5,1436.5 L602.2,1739.3 L605.9,1793.5 L609.6,1800.9 L611.5,1802.5 L613.3,1803.3 L615.7,1810.7 L617.7,1741.8 L618.1,1746.3 L618.6,1758.6 L619.0,1775.5 L619.5,1793.0 L619.9,1808.3 L620.4,1806.6 L620.9,1802.3 L621.4,1793.5 L621.9,1777.5 L622.4,1752.9 L622.9,1721.3 L623.4,1688.2 L623.9,1662.7 L624.4,1653.1 L628.1,1768.9 L629.8,1788.6 L631.7,1754.1 L632.2,1758.5 L632.7,1770.1 L633.2,1785.1 L633.7,1799.5 L634.2,1810.7 L634.7,1810.4 L635.2,1809.2 L635.7,1806.3 L636.2,1799.5 L636.7,1785.6 L637.1,1761.3 L637.6,1724.7 L638.1,1678.4 L638.6,1630.7 L639.1,1594.2 L639.6,1580.5 L640.1,1591.3 L640.5,1620.6 L641.0,1660.0 L641.4,1700.2 L641.9,1734.1 L642.3,1758.5 L642.8,1773.8 L644.1,1751.6 L647.7,1808.3 L651.4,1818.1 L651.9,1776.9 L652.3,1728.7 L652.8,1676.2 L653.2,1623.1 L653.7,1574.1 L654.2,1534.3 L654.6,1508.3 L655.1,1499.3 L657.6,1714.7 L660.0,1751.6 L660.5,1729.2 L661.0,1700.4 L661.5,1670.4 L662.0,1647.2 L662.5,1638.4 L666.2,1805.8 L668.6,1818.1 L671.8,1813.2 L674.8,1813.2 L677.2,1480.8 L679.2,1468.5 L680.9,1517.7 L683.4,1759.0 L684.6,1773.8 L686.6,1764.0 L688.3,1778.7 L690.0,1793.5 L690.5,1778.4 L691.0,1759.0 L691.5,1738.8 L692.0,1723.1 L692.5,1717.2 L695.0,1788.6 L697.4,1810.7 L699.4,1805.8 L699.9,1806.8 L700.4,1809.4 L700.8,1812.8 L701.3,1816.1 L701.8,1818.8 L702.3,1820.6 L703.8,1819.5 L705.3,1818.9 L706.8,1818.1 L711.7,1810.7 L713.5,1809.9 L715.4,1808.3 L719.1,1795.9 L721.1,1803.3 L721.6,1797.2 L722.1,1789.5 L722.5,1781.8 L723.0,1776.0 L723.5,1773.8 L724.0,1776.5 L724.5,1783.7 L725.0,1792.9 L725.5,1801.8 L726.0,1808.7 L726.5,1813.2 L727.0,1813.0 L727.4,1812.6 L727.9,1812.1 L728.4,1811.2 L728.8,1810.3 L729.3,1809.3 L729.7,1808.6 L730.2,1808.3 L733.9,1820.6 L735.5,1820.8 L737.2,1820.6 L738.8,1820.6 L740.6,1820.3 L742.5,1819.1 L744.4,1818.7 L746.2,1818.1 L749.9,1803.3 L752.3,1768.9 L754.8,1793.5 L757.3,1813.2 L760.9,1820.6 L763.4,1813.2 L766.4,1786.1 L768.3,1810.7 L768.8,1808.9 L769.2,1804.9 L769.7,1797.6 L770.2,1785.5 L770.6,1768.4 L771.1,1747.7 L771.6,1727.2 L772.0,1711.8 L772.5,1706.1 L775.0,1798.4 L777.0,1813.2 L777.5,1810.2 L778.0,1805.7 L778.5,1800.2 L778.9,1794.5 L779.4,1790.2 L779.9,1788.6 L782.4,1810.7 L785.6,1818.1 L787.2,1819.3 L788.9,1819.8 L790.5,1820.6 L795.4,1815.6 L800.3,1793.5 L800.8,1794.6 L801.2,1797.5 L801.7,1801.4 L802.1,1805.3 L802.6,1808.6 L803.1,1811.0 L803.5,1812.4 L804.0,1813.2 L807.7,1788.6 L810.2,1766.4 L810.7,1768.1 L811.2,1772.7 L811.7,1778.6 L812.2,1784.2 L812.7,1788.6 L814.6,1781.2 L817.6,1808.3 L819.5,1808.3 L822.0,1489.4 L823.7,1714.7 L825.0,1754.1 L825.5,1750.1 L825.9,1742.7 L826.4,1730.6 L826.9,1713.8 L827.3,1693.5 L827.8,1673.5 L828.2,1658.6 L828.7,1653.1 L832.4,1764.0 L834.8,1805.8 L835.3,1803.8 L835.8,1801.3 L836.3,1798.7 L836.8,1796.7 L837.3,1795.9 L837.8,1797.2 L838.3,1800.6 L838.7,1805.1 L839.2,1809.6 L839.7,1813.2 L840.2,1813.0 L840.6,1812.6 L841.1,1812.1 L841.5,1811.2 L842.0,1810.3 L842.5,1809.3 L842.9,1808.6 L843.4,1808.3 L843.9,1808.7 L844.3,1809.8 L844.8,1811.2 L845.2,1812.7 L845.7,1813.9 L846.2,1814.8 L846.6,1815.3 L847.1,1815.6 L847.6,1815.4 L848.0,1815.0 L848.5,1814.5 L849.0,1813.6 L849.4,1812.7 L849.9,1811.7 L850.3,1811.0 L850.8,1810.7 L851.3,1811.0 L851.7,1811.7 L852.2,1812.7 L852.6,1813.6 L853.1,1814.5 L853.6,1815.0 L854.0,1815.4 L854.5,1815.6 L855.0,1813.4 L855.4,1809.5 L855.9,1803.0 L856.4,1794.0 L856.8,1783.2 L857.3,1772.4 L857.7,1764.5 L858.2,1761.5 L858.7,1764.3 L859.1,1772.0 L859.6,1782.2 L860.0,1792.6 L860.5,1801.2 L861.0,1807.3 L861.4,1811.1 L861.9,1813.2 L864.4,1795.9 L866.8,1635.9 L867.3,1644.7 L867.7,1668.3 L868.2,1699.9 L868.6,1732.0 L869.1,1758.7 L869.6,1777.8 L870.0,1789.5 L870.5,1795.9 L872.2,1766.4 L874.2,1813.2 L876.7,1788.6 L880.4,1485.7 L882.8,1739.3 L885.3,1808.3 L885.8,1807.8 L886.2,1806.9 L886.7,1805.4 L887.1,1803.3 L887.6,1800.9 L888.1,1798.4 L888.5,1796.6 L889.0,1795.9 L889.5,1797.2 L890.0,1800.6 L890.4,1805.1 L890.9,1809.6 L891.4,1813.2 L895.1,1788.6 L898.8,1706.1 L899.3,1710.8 L899.7,1723.4 L900.2,1740.2 L900.7,1757.2 L901.1,1771.2 L901.6,1781.1 L903.6,1721.0 L905.7,1771.4 L908.1,1820.2 L909.8,1821.8 L910.3,1821.4 L910.7,1820.8 L911.2,1819.9 L911.6,1818.9 L912.1,1817.9 L912.5,1817.2 L913.0,1816.9 L914.6,1818.5 L916.3,1803.9 L918.2,1794.1 L918.6,1795.4 L919.0,1798.9 L919.5,1803.8 L919.9,1809.0 L920.3,1813.7 L920.8,1812.6 L921.2,1810.5 L921.7,1807.0 L922.2,1801.9 L922.7,1795.6 L923.1,1789.3 L923.6,1784.6 L924.1,1782.8 L924.5,1784.1 L925.0,1787.5 L925.5,1792.1 L925.9,1796.9 L926.3,1800.9 L926.8,1803.9 L927.3,1794.6 L927.7,1781.4 L928.2,1765.4 L928.7,1749.5 L929.1,1737.6 L929.6,1733.2 L931.7,1795.8 L933.3,1810.4 L935.8,1800.7 L938.2,1797.4 L938.7,1799.2 L939.2,1803.8 L939.7,1809.9 L940.2,1815.7 L940.7,1820.2 L941.2,1816.1 L941.7,1811.1 L942.1,1806.0 L942.6,1802.1 L943.1,1800.7 L944.7,1807.2 L946.3,1755.1 L947.5,1763.3 L948.0,1758.7 L948.5,1751.9 L949.0,1743.5 L949.4,1734.9 L949.9,1728.4 L950.4,1725.9 L952.8,1779.5 L954.5,1820.2 L956.1,1815.3 L957.7,1818.5 L958.2,1818.2 L958.7,1817.8 L959.2,1817.4 L959.7,1817.0 L960.2,1816.9 L960.7,1817.1 L961.2,1817.8 L961.6,1818.7 L962.1,1819.5 L962.6,1820.2 L963.1,1813.2 L963.5,1800.7 L964.0,1781.2 L964.4,1754.5 L964.9,1723.3 L965.3,1693.0 L965.8,1670.6 L966.2,1662.4 L968.3,1771.4 L970.7,1813.7 L972.4,1807.2 L973.5,1812.0 L975.1,1789.3 L977.2,1816.9 L979.7,1821.8 L980.2,1821.5 L980.7,1820.9 L981.2,1819.5 L981.7,1817.1 L982.2,1813.4 L982.7,1808.6 L983.2,1803.5 L983.7,1799.7 L984.2,1798.2 L986.2,1820.2 L988.6,1821.8 L990.2,1821.2 L991.9,1820.5 L993.5,1820.2 L995.5,1818.6 L997.6,1816.9 L999.2,1818.9 L1000.8,1820.2 L1002.4,1820.3 L1004.1,1821.5 L1005.7,1821.8 L1007.3,1822.1 L1008.9,1822.1 L1010.6,1822.0 L1012.2,1822.0 L1013.8,1821.8 L1015.4,1821.7 L1017.1,1821.7 L1018.7,1821.5 L1020.3,1821.1 L1021.9,1821.7 L1023.6,1821.4 L1025.2,1821.0 L1026.8,1821.2 L1028.5,1821.1 L1030.1,1821.0 L1033.3,1816.9 L1035.8,1821.0 L1037.3,1820.9 L1038.8,1820.9 L1040.3,1821.0 L1041.8,1821.1 L1043.3,1821.1 L1044.8,1821.0 L1046.3,1821.0 L1047.9,1820.1 L1049.6,1819.8 L1051.2,1819.2 L1052.9,1819.1 L1054.5,1818.5 L1055.0,1818.5 L1055.5,1818.7 L1055.9,1818.8 L1056.4,1819.0 L1056.9,1819.1 L1057.4,1819.2 L1057.8,1819.3 L1058.3,1819.3 L1058.8,1819.6 L1059.3,1819.5 L1059.7,1819.5 L1060.2,1819.6 L1060.7,1819.1 L1061.2,1819.6 L1061.6,1819.4 L1062.1,1819.0 L1062.6,1819.3 L1064.2,1818.6 L1065.8,1818.3 L1067.5,1818.5 L1069.1,1817.8 L1070.7,1817.7 L1074.3,1799.0 L1074.8,1800.2 L1075.3,1803.5 L1075.8,1807.8 L1076.2,1812.0 L1076.7,1815.4 L1077.2,1817.7 L1078.0,1816.9 L1079.0,1816.1 L1080.0,1817.7 L1081.0,1815.8 L1082.0,1816.9 L1083.0,1816.1 L1084.0,1814.9 L1085.0,1816.2 L1086.0,1814.7 L1087.0,1815.9 L1088.0,1814.6 L1089.0,1814.4 L1090.0,1815.1 L1091.0,1816.1 L1092.0,1813.8 L1093.0,1814.1 L1094.0,1815.2 L1095.0,1815.9 L1096.0,1814.4 L1097.0,1813.6 L1098.0,1814.9 L1099.0,1811.9 L1100.0,1814.1 L1101.0,1811.8 L1102.0,1811.0 L1103.0,1810.9 L1104.0,1811.2 L1105.0,1812.4 L1106.0,1810.2 L1107.0,1811.0 L1108.0,1810.8 L1109.0,1809.6 L1110.0,1809.9 L1111.0,1808.3 L1112.0,1808.3 L1113.0,1808.7 L1114.0,1809.8 L1115.0,1808.6 L1116.0,1807.9 L1117.0,1808.7 L1118.0,1808.2 L1119.0,1807.5 L1120.0,1808.8 L1121.0,1808.4 L1122.0,1806.4 L1123.0,1806.8 L1124.0,1806.3 L1125.0,1807.1 L1126.0,1806.4 L1127.0,1804.9 L1128.0,1806.8 L1129.0,1804.0 L1130.0,1804.3 L1131.0,1804.7 L1132.0,1802.8 L1133.0,1803.5 L1134.0,1801.8 L1135.0,1803.2 L1136.0,1803.0 L1137.0,1802.1 L1138.0,1802.5 L1139.0,1800.3 L1140.0,1801.4 L1141.0,1800.9 L1142.0,1800.2 L1143.0,1798.9 L1144.0,1799.0 L1145.0,1797.7 L1146.0,1794.6 L1147.0,1793.5 L1148.0,1791.9 L1149.0,1794.3 L1150.0,1794.4 L1151.0,1794.8 L1152.0,1793.7 L1153.0,1791.2 L1154.0,1790.7 L1155.0,1791.5 L1156.0,1789.6 L1157.0,1790.9 L1158.0,1790.0 L1159.0,1789.2 L1160.0,1788.5 L1161.0,1790.2 L1162.0,1787.9 L1163.0,1788.1 L1164.0,1788.3 L1165.0,1789.4 L1166.0,1786.7 L1167.0,1787.6 L1168.0,1787.6 L1169.0,1788.4 L1170.0,1788.0 L1171.0,1787.9 L1172.0,1785.9 L1173.0,1786.0 L1174.0,1785.6 L1175.0,1787.1 L1176.0,1787.2 L1177.0,1784.9 L1178.0,1785.0 L1179.0,1785.7 L1180.0,1786.3 L1181.0,1787.5 L1182.0,1788.3 L1183.0,1784.8 L1184.0,1781.5 L1185.0,1781.1 L1186.0,1779.3 L1187.0,1780.1 L1188.0,1782.8 L1189.0,1783.6 L1190.0,1783.4 L1191.0,1784.0 L1192.0,1784.5 L1193.0,1781.7 L1194.0,1783.3 L1195.0,1782.4 L1196.0,1782.1 L1197.0,1781.8 L1198.0,1780.5 L1199.0,1780.6 L1200.0,1779.8 L1201.0,1782.1 L1202.0,1781.1 L1203.0,1781.4 L1204.0,1782.1 L1205.0,1781.4 L1206.0,1781.3 L1207.0,1779.6 L1208.0,1778.5 L1209.0,1778.6 L1210.0,1778.1 L1211.0,1778.8 L1212.0,1777.6 L1213.0,1780.3 L1214.0,1779.6 L1215.0,1778.1 L1216.0,1778.3 L1217.0,1778.2 L1218.0,1777.9 L1219.0,1777.0 L1220.0,1779.0 L1221.0,1779.4 L1222.0,1777.7 L1223.0,1777.4 L1224.0,1775.8 L1225.0,1775.7 L1226.0,1776.2 L1227.0,1775.6 L1228.0,1777.0 L1229.0,1774.5 L1230.0,1773.5 L1231.0,1775.8 L1232.0,1774.1 L1233.0,1773.1 L1234.0,1774.4 L1235.0,1773.2 L1236.0,1775.1 L1237.0,1776.5 L1238.0,1776.2 L1239.0,1776.1 L1240.0,1775.3 L1241.0,1775.3 L1242.0,1774.3 L1243.0,1775.5 L1244.0,1774.1 L1245.0,1773.9 L1246.0,1771.6 L1247.0,1770.7 L1248.0,1771.9 L1249.0,1773.8 L1250.0,1774.7 L1251.0,1775.9 L1252.0,1776.0 L1253.0,1775.7 L1254.0,1772.8 L1255.0,1772.4 L1256.0,1770.6 L1257.0,1770.6 L1258.0,1771.6 L1259.0,1773.3 L1260.0,1774.3 L1261.0,1776.5 L1262.0,1778.1 L1263.0,1777.2 L1264.0,1779.3 L1265.0,1779.9 L1266.0,1780.2 L1267.0,1778.5 L1268.0,1778.2 L1269.0,1778.3 L1270.0,1778.3 L1271.0,1778.3 L1272.0,1779.9 L1273.0,1781.1 L1274.0,1781.1 L1275.0,1780.1 L1276.0,1780.5 L1277.0,1781.1 L1278.0,1779.0 L1279.0,1780.7 L1280.0,1781.5 L1281.0,1781.2 L1282.0,1781.1 L1283.0,1780.3 L1284.0,1779.6 L1285.0,1781.8 L1286.0,1780.3 L1287.0,1781.8 L1288.0,1782.4 L1289.0,1780.8 L1290.0,1781.0 L1291.0,1783.0 L1292.0,1782.7 L1293.0,1780.9 L1294.0,1780.8 L1295.0,1781.3 L1296.0,1783.4 L1297.0,1783.1 L1298.0,1781.3 L1299.0,1783.3 L1300.0,1783.9 L1301.0,1783.3 L1302.0,1782.4 L1303.0,1782.8 L1304.0,1781.2 L1305.0,1781.0 L1306.0,1784.0 L1307.0,1783.1 L1308.0,1783.2 L1309.0,1784.5 L1310.0,1782.8 L1311.0,1784.4 L1312.0,1784.3 L1313.0,1782.4 L1314.0,1782.5 L1315.0,1782.6 L1316.0,1782.8 L1317.0,1784.1 L1318.0,1783.3 L1319.0,1783.8 L1320.0,1782.9 L1321.0,1785.6 L1322.0,1784.2 L1323.0,1784.4 L1324.0,1785.1 L1325.0,1786.5 L1326.0,1785.2 L1327.0,1786.8 L1328.0,1785.6 L1329.0,1785.9 L1330.0,1786.1 L1331.0,1784.5 L1332.0,1785.3 L1333.0,1783.8 L1334.0,1783.2 L1335.0,1785.4 L1336.0,1783.0 L1337.0,1783.3 L1338.0,1783.3 L1339.0,1782.5 L1340.0,1781.5 L1342.0,1784.0 L1344.0,1800.0 L1345.0,1816.0 L1346.0,1820.0 L1346.5,1819.9 L1347.0,1819.7 L1347.5,1819.5 L1348.0,1819.3 L1348.5,1819.1 L1349.0,1819.0 L1352.0,1822.4 L1354.0,1822.9 L1356.0,1824.0 L1357.6,1824.4 L1359.1,1823.9 L1360.7,1824.3 L1362.2,1824.3 L1363.8,1824.5 L1365.3,1824.2 L1366.9,1824.2 L1368.4,1824.2 L1370.0,1824.4 L1371.5,1824.7 L1373.0,1824.5 L1374.6,1824.8 L1376.1,1824.7 L1377.6,1824.1 L1379.1,1824.5 L1380.6,1824.1 L1382.2,1824.1 L1383.7,1824.1 L1385.2,1824.8 L1386.7,1824.7 L1388.2,1824.8 L1389.8,1824.4 L1391.3,1824.6 L1392.8,1824.8 L1394.3,1824.4 L1395.9,1824.6 L1397.4,1824.3 L1398.9,1824.2 L1400.4,1824.4 L1401.9,1824.9 L1403.5,1824.6 L1405.0,1824.9 L1406.5,1824.6 L1408.0,1824.4 L1409.5,1824.8 L1411.1,1824.9 L1412.6,1824.2 L1414.1,1824.8 L1415.6,1824.3 L1417.1,1824.4 L1418.7,1825.0 L1420.2,1824.3 L1421.7,1824.5 L1423.2,1825.1 L1424.8,1824.6 L1426.3,1824.4 L1427.8,1824.5 L1429.3,1824.5 L1430.8,1824.9 L1432.4,1824.4 L1433.9,1825.1 L1435.4,1824.7 L1436.9,1825.1 L1438.4,1825.1 L1440.0,1824.6 L1441.5,1824.6 L1443.0,1824.8" stroke="#262626" stroke-width="1.6" fill="none" stroke-linejoin="round"/>
<path d="M262.5,1261.4 L288.9,1257 M371.4,1775.3 L396.7,1779.7 M440.9,1787.3 L450.8,1783.6 M508.6,1573.1 L560.3,1569 M516.5,1716.7 L546.8,1712.7 M522.2,1753.6 L554.2,1749.9 M599.7,1432.8 L631.3,1429.1 M641.6,1495.6 L653.9,1498.5 M733.9,1762.7 L752.3,1766.9 M796.6,1484.5 L821.3,1488.7 M898.8,1704.9 L924.4,1701.8 M1091,1782.8 L1162,1787 M1170,1769 L1240,1771.4 M1263,1773 L1333,1769.4 M1348,1815.6 L1387,1812" stroke="#8cc08c" stroke-width="1.5" fill="none"/>
<path d="M299.9,1656.5 L315.9,1640 M387.9,1737.9 L407.7,1732.4 M418.7,1762 L420.9,1787.4 M516,1690 L514.3,1717.2 M585,1746.7 L589.9,1766.4 M581.3,1421.7 L595.3,1413.1 M612.5,1729.5 L617,1740.5 M634.2,1517.7 L652.7,1505.4 M663.7,1643.3 L684.6,1628.5 M737.6,1780 L751.1,1773.8 M762.2,1760.2 L764.6,1781.2 M796.6,1770.1 L800.3,1792.3 M797.9,1739.3 L809.7,1766.4 M791.7,1515.3 L820,1506.6 M833.6,1628.5 L829.4,1650.7 M863.1,1608.8 L866.8,1635.9 M880.4,1746.7 L873,1770.1 M881.6,1504.2 L900,1494.3 M969.9,1676.3 L991.9,1668.1" stroke="#c8283c" stroke-width="2" fill="none"/>
<text x="226.69" y="1015.20" font-size="24.8" fill="#111" stroke="#111">0.99</text>
<text x="263.85" y="1256.30" font-size="24.8" fill="#111" stroke="#111">1.18</text>
<text x="290.81" y="1630.00" font-size="24.8" fill="#111" stroke="#111">2.03</text>
<text x="345.57" y="1774.20" font-size="24.8" fill="#111" stroke="#111">3.30</text>
<text x="384.19" y="1722.50" font-size="24.8" fill="#111" stroke="#111">3.51</text>
<text x="422.04" y="1783.60" font-size="24.8" fill="#111" stroke="#111">4.01</text>
<text x="465.62" y="1555.90" font-size="24.8" fill="#111" stroke="#111">4.80</text>
<text x="535.64" y="1567.00" font-size="24.8" fill="#111" stroke="#111">5.09</text>
<text x="522.14" y="1712.20" font-size="24.8" fill="#111" stroke="#111">5.19</text>
<text x="528.77" y="1748.00" font-size="24.8" fill="#111" stroke="#111">5.30</text>
<text x="571.75" y="1395.90" font-size="24.8" fill="#111" stroke="#111">6.50</text>
<text x="606.86" y="1426.60" font-size="24.8" fill="#111" stroke="#111">6.53</text>
<text x="617.36" y="1494.30" font-size="24.8" fill="#111" stroke="#111">7.43</text>
<text x="665.43" y="1459.90" font-size="24.8" fill="#111" stroke="#111">7.82</text>
<text x="707.82" y="1761.50" font-size="24.8" fill="#111" stroke="#111">8.98</text>
<text x="747.76" y="1698.70" font-size="24.8" fill="#111" stroke="#111">9.30</text>
<text x="764.08" y="1483.30" font-size="24.8" fill="#111" stroke="#111">10.09</text>
<text x="848.66" y="1478.30" font-size="24.8" fill="#111" stroke="#111">11.01</text>
<text x="892.46" y="1699.80" font-size="24.8" fill="#111" stroke="#111">11.31</text>
<text x="935.62" y="1655.10" font-size="24.8" fill="#111" stroke="#111">12.38</text>
<text x="1059.15" y="1781.10" font-size="24.8" fill="#111" stroke="#111">15.50</text>
<text x="1138.19" y="1766.00" font-size="24.8" fill="#111" stroke="#111">16.77</text>
<text x="1225.00" y="1763.00" font-size="24.8" fill="#111" stroke="#111">17.00</text>
<text x="1303.69" y="1767.00" font-size="24.8" fill="#111" stroke="#111">17.12</text>
<text x="1355.69" y="1810.00" font-size="24.8" fill="#111" stroke="#111">18.47</text>
<text x="277.53" y="1671.90" font-size="24.8" fill="#d0182a" stroke="#d0182a">12</text>
<text x="358.85" y="1743.40" font-size="24.8" fill="#d0182a" stroke="#d0182a">13</text>
<text x="409.28" y="1755.50" font-size="24.8" fill="#d0182a" stroke="#d0182a">14</text>
<text x="503.70" y="1683.90" font-size="24.8" fill="#d0182a" stroke="#d0182a">15</text>
<text x="565.85" y="1743.00" font-size="24.8" fill="#d0182a" stroke="#d0182a">16</text>
<text x="550.58" y="1432.80" font-size="24.8" fill="#d0182a" stroke="#d0182a">17</text>
<text x="597.85" y="1717.20" font-size="24.8" fill="#d0182a" stroke="#d0182a">18</text>
<text x="605.91" y="1527.60" font-size="24.8" fill="#d0182a" stroke="#d0182a">19</text>
<text x="682.95" y="1629.80" font-size="24.8" fill="#d0182a" stroke="#d0182a">20</text>
<text x="708.97" y="1786.10" font-size="24.8" fill="#d0182a" stroke="#d0182a">21</text>
<text x="746.59" y="1746.70" font-size="24.8" fill="#d0182a" stroke="#d0182a">22</text>
<text x="769.81" y="1770.10" font-size="24.8" fill="#d0182a" stroke="#d0182a">23</text>
<text x="786.34" y="1733.20" font-size="24.8" fill="#d0182a" stroke="#d0182a">24</text>
<text x="762.46" y="1525.10" font-size="24.8" fill="#d0182a" stroke="#d0182a">25</text>
<text x="824.61" y="1624.80" font-size="24.8" fill="#d0182a" stroke="#d0182a">26</text>
<text x="848.14" y="1603.90" font-size="24.8" fill="#d0182a" stroke="#d0182a">27</text>
<text x="870.76" y="1738.10" font-size="24.8" fill="#d0182a" stroke="#d0182a">28</text>
<text x="898.67" y="1498.00" font-size="24.8" fill="#d0182a" stroke="#d0182a">29</text>
<text x="994.67" y="1676.30" font-size="24.8" fill="#d0182a" stroke="#d0182a">30</text>
<text x="1.95" y="42.80" font-size="57.97" font-weight="bold" fill="#000" stroke="#000">A</text>
<text x="2.72" y="966.25" font-size="54.35" font-weight="bold" fill="#000" stroke="#000">B</text>
<text x="89.42" y="51.60" font-size="24.8" fill="#111" stroke="#111">RT</text>
<text x="123.27" y="51.60" font-size="24.8" fill="#111" stroke="#111">:</text>
<text x="140.61" y="51.80" font-size="24.8" fill="#1c1c9c" stroke="#1c1c9c">0.00 - 20.00</text>
<text x="89.42" y="985.20" font-size="24.8" fill="#111" stroke="#111">RT</text>
<text x="123.27" y="985.20" font-size="24.8" fill="#111" stroke="#111">:</text>
<text x="140.61" y="985.40" font-size="24.8" fill="#1c1c9c" stroke="#1c1c9c">0.00 - 20.00</text>
<text x="751.18" y="953.10" font-size="24.8" fill="#111" stroke="#111">Time (min)</text>
<text x="757.41" y="1896.90" font-size="24.8" fill="#111" stroke="#111">Time (min)</text>
<text transform="translate(122.40,597.25) rotate(-90) scale(1.0081,1.08)" font-size="24.8" fill="#111" stroke="#111">Relative Abundance</text>
<text transform="translate(121.50,1537.12) rotate(-90) scale(1.0189,1.08)" font-size="24.8" fill="#111" stroke="#111">Relative Abundance</text>
<text x="1415.62" y="79.50" font-size="24.8" fill="#111" stroke="#111">NL:</text>
<text x="1416.36" y="107.80" font-size="24.8" fill="#111" stroke="#111">2.96E9</text>
<text x="1415.62" y="141.10" font-size="24.8" fill="#111" stroke="#111">Base Peak F:</text>
<text x="1415.99" y="168.20" font-size="24.8" fill="#111" stroke="#111">ms</text>
<text x="1468.42" y="168.20" font-size="24.8" fill="#111" stroke="#111">MS</text>
<text x="1416.98" y="195.20" font-size="24.8" fill="#111" stroke="#111">YAS2024112</text>
<text x="1416.61" y="223.80" font-size="24.8" fill="#111" stroke="#111">00040_CLM_</text>
<text x="1415.74" y="251.00" font-size="24.8" fill="#111" stroke="#111">1X_2ul_POS 3</text>
<text x="1428.22" y="1013.30" font-size="24.8" fill="#111" stroke="#111">NL:</text>
<text x="1429.21" y="1042.20" font-size="24.8" fill="#111" stroke="#111">5.02E9</text>
<text x="1428.22" y="1075.50" font-size="24.8" fill="#111" stroke="#111">Base Peak F:</text>
<text x="1428.59" y="1102.60" font-size="24.8" fill="#111" stroke="#111">ms</text>
<text x="1483.52" y="1102.60" font-size="24.8" fill="#111" stroke="#111">MS</text>
<text x="1429.58" y="1130.20" font-size="24.8" fill="#111" stroke="#111">YAS2024112</text>
<text x="1429.21" y="1158.80" font-size="24.8" fill="#111" stroke="#111">00040_CLM_</text>
<text x="1428.34" y="1186.00" font-size="24.8" fill="#111" stroke="#111">1X_2ul_NEG 3</text>
</svg>
</body></html>
